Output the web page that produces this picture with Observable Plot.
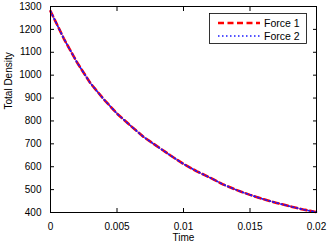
<!DOCTYPE html>
<html>
<head>
<meta charset="utf-8">
<script src="https://cdn.jsdelivr.net/npm/d3@7"></script>
<script src="https://cdn.jsdelivr.net/npm/@observablehq/plot@0.6"></script>
<style>
  html, body { margin: 0; padding: 0; background: #fff; }
  #chart { position: relative; width: 327px; height: 246px; }
</style>
</head>
<body>
<div id="chart"></div>
<script>
// Data
const times = [0, 0.001, 0.002, 0.003, 0.004, 0.005, 0.006, 0.007, 0.008, 0.009, 0.010,
               0.011, 0.012, 0.013, 0.014, 0.015, 0.016, 0.017, 0.018, 0.019, 0.020];
const force1 = [1280, 1160, 1055, 965, 895, 832, 780, 730, 690, 650, 612,
                580, 552, 522, 498, 477, 458, 442, 427, 413, 402];
const force2 = [1280, 1160, 1055, 965, 895, 832, 780, 730, 690, 650, 612,
                580, 552, 522, 498, 477, 458, 442, 427, 413, 402];
const seriesNames = ["Force 1", "Force 2"];
const xTicks = [0, 0.005, 0.01, 0.015, 0.02];
const xTickLabels = ["0", "0.005", "0.01", "0.015", "0.02"];
const yTicks = [400, 500, 600, 700, 800, 900, 1000, 1100, 1200, 1300];
const yTickLabels = ["400", "500", "600", "700", "800", "900", "1000", "1100", "1200", "1300"];
const xLabel = "Time";
const yLabel = "Total Density";

const d1 = times.map((t, i) => ({t, v: force1[i]}));
const d2 = times.map((t, i) => ({t, v: force2[i]}));
const blank = () => "";

const plot = Plot.plot({
  width: 327,
  height: 246,
  marginLeft: 50,
  marginRight: 11,
  marginTop: 6,
  marginBottom: 34,
  style: {fontFamily: "'Liberation Sans', Arial, sans-serif", fontSize: "10px", background: "white", color: "black"},
  x: {domain: [0, 0.02]},
  y: {domain: [400, 1300]},
  marks: [
    Plot.line(d1, {x: "t", y: "v", stroke: "#ff0000", strokeWidth: 2.6, strokeDasharray: "6,3.5"}),
    Plot.line(d2, {x: "t", y: "v", stroke: "#1a1aff", strokeWidth: 1.6, strokeDasharray: "1.5,2.5"}),
    Plot.frame({stroke: "black", strokeWidth: 1}),
    Plot.axisX(xTicks, {anchor: "bottom", tickSize: 0, tickPadding: 9, dy: 1, tickFormat: (d) => xTickLabels[xTicks.indexOf(d)], label: null}),
    Plot.axisX(xTicks, {anchor: "bottom", tickSize: -4, tickFormat: blank, label: null}),
    Plot.axisX(xTicks, {anchor: "top", tickSize: -4, tickFormat: blank, label: null}),
    Plot.axisY(yTicks, {anchor: "left", tickSize: 0, tickPadding: 9, tickFormat: (d) => yTickLabels[yTicks.indexOf(d)], label: null}),
    Plot.axisY(yTicks, {anchor: "left", tickSize: -4, tickFormat: blank, label: null}),
    Plot.axisY(yTicks, {anchor: "right", tickSize: -4, tickFormat: blank, label: null}),
    Plot.text([xLabel], {frameAnchor: "bottom", dy: 28, fontSize: 10, fill: "black"}),
    Plot.text([yLabel], {frameAnchor: "left", dx: -42, rotate: -90, fontSize: 10, fill: "black"})
  ]
});
document.getElementById("chart").appendChild(plot);

// Legend (inside the plot area, top right)
const svg = d3.select(plot);
const lg = svg.append("g")
  .attr("font-family", "'Liberation Sans', Arial, sans-serif")
  .attr("font-size", "10.5px")
  .attr("text-anchor", "start");
lg.append("rect").attr("x", 209.5).attr("y", 13.5).attr("width", 97).attr("height", 30)
  .attr("fill", "white").attr("stroke", "black").attr("stroke-width", 0.8);
const legendStyles = [
  {stroke: "#ff0000", width: 2.6, dash: "6,3.5"},
  {stroke: "#1a1aff", width: 1.6, dash: "1.5,2.5"}
];
seriesNames.forEach((name, i) => {
  const y = 23 + i * 13;
  lg.append("line").attr("x1", 218).attr("x2", 260).attr("y1", y).attr("y2", y)
    .attr("stroke", legendStyles[i].stroke).attr("stroke-width", legendStyles[i].width)
    .attr("stroke-dasharray", legendStyles[i].dash);
  lg.append("text").attr("x", 264).attr("y", y).attr("dy", "0.35em")
    .attr("text-anchor", "start").attr("fill", "black").text(name);
});
</script>
</body>
</html>
